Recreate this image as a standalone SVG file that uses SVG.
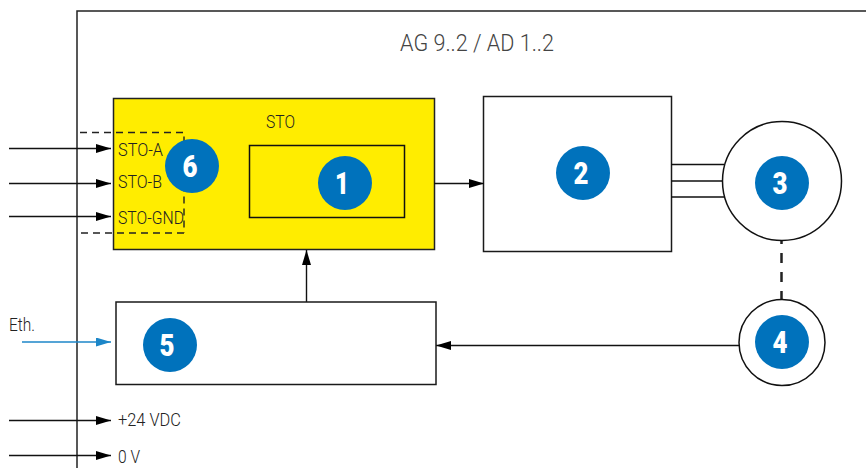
<svg xmlns="http://www.w3.org/2000/svg" width="866" height="468" viewBox="0 0 866 468">
<style>
text{font-family:"Roboto","Liberation Sans",sans-serif}
.l{font-size:18px;font-weight:300;fill:#222}
.box{fill:#fff;stroke:#1a1a1a;stroke-width:1.5}
.c{stroke:#111;stroke-width:1.4;fill:none}
.b{fill:#0072bc}
.n{font-size:31px;font-weight:900;fill:#fff;text-anchor:middle}
</style>
<defs>
<marker id="a" markerUnits="userSpaceOnUse" markerWidth="16" markerHeight="10" refX="15" refY="4.500" orient="auto"><path d="M0 0L15 4.500L0 9Z" fill="#000"/></marker>
<marker id="e" markerUnits="userSpaceOnUse" markerWidth="16" markerHeight="10" refX="15" refY="4.500" orient="auto"><path d="M0 0L15 4.500L0 9Z" fill="#1c86c8"/></marker>
</defs>
<path d="M866 11H77V468" fill="none" stroke="#222" stroke-width="1.500"/>
<text x="400" y="51" font-size="23" font-weight="300" fill="#444" textLength="154" lengthAdjust="spacingAndGlyphs">AG 9..2 / AD 1..2</text>
<g id="node1"><rect x="113.500" y="98.500" width="321" height="151" fill="#ffed00" stroke="#222" stroke-width="1.500"/><rect x="249.500" y="145.500" width="155" height="72" fill="none" stroke="#111" stroke-width="1.500"/><text x="266" y="128" class="l" textLength="29" lengthAdjust="spacingAndGlyphs">STO</text><circle class="b" cx="345" cy="183" r="27"/><text x="342" y="194" class="n" textLength="14" lengthAdjust="spacingAndGlyphs">1</text></g>
<g id="node6"><path d="M80 132.500H184V233M184 233H80" fill="none" stroke="#222" stroke-width="1.400" stroke-dasharray="7 5"/><text x="118" y="156" class="l" textLength="45" lengthAdjust="spacingAndGlyphs">STO-A</text><text x="118" y="188" class="l" textLength="44" lengthAdjust="spacingAndGlyphs">STO-B</text><text x="118" y="224" class="l" textLength="66" lengthAdjust="spacingAndGlyphs">STO-GND</text><circle class="b" cx="192" cy="166" r="27"/><text x="190" y="177" class="n" textLength="15" lengthAdjust="spacingAndGlyphs">6</text></g>
<g id="node2"><rect class="box" x="483.500" y="96.500" width="188" height="155"/><circle class="b" cx="583" cy="173" r="27"/><text x="581" y="184" class="n" textLength="15" lengthAdjust="spacingAndGlyphs">2</text></g>
<g id="connectors">
<path class="c" d="M9 148.500H111" marker-end="url(#a)"/>
<path class="c" d="M9 183.500H111" marker-end="url(#a)"/>
<path class="c" d="M9 216.500H111" marker-end="url(#a)"/>
<path class="c" d="M9 420.500H111" marker-end="url(#a)"/>
<path class="c" d="M9 455.500H111" marker-end="url(#a)"/>
<path d="M22 342H111" stroke="#1c86c8" stroke-width="1.400" fill="none" marker-end="url(#e)"/>
<path class="c" d="M434 183.500H484" marker-end="url(#a)"/>
<path class="c" d="M306.500 302V250" marker-end="url(#a)"/>
<path class="c" d="M739 345.500H436" marker-end="url(#a)"/>
<path class="c" d="M671 164.500H724M671 181H723M671 197H724"/>
<path d="M781.500 241V301" stroke="#222" stroke-width="2.500" stroke-dasharray="10 9" stroke-dashoffset="7" fill="none"/>
</g>
<g id="node3"><circle cx="782" cy="181" r="59.500" fill="#fff" stroke="#111" stroke-width="1.500"/><circle class="b" cx="782" cy="183" r="27"/><text x="780" y="194" class="n" textLength="15" lengthAdjust="spacingAndGlyphs">3</text></g>
<g id="node4"><circle cx="782" cy="342.500" r="43" fill="#fff" stroke="#111" stroke-width="1.500"/><circle class="b" cx="782" cy="342" r="27"/><text x="780" y="353" class="n" textLength="15" lengthAdjust="spacingAndGlyphs">4</text></g>
<g id="node5"><rect class="box" x="116" y="302" width="320" height="82.500"/><text x="9" y="331" class="l" textLength="26" lengthAdjust="spacingAndGlyphs">Eth.</text><circle class="b" cx="170" cy="345" r="27"/><text x="167" y="356" class="n" textLength="15" lengthAdjust="spacingAndGlyphs">5</text></g>
<text x="118" y="426" class="l" textLength="63" lengthAdjust="spacingAndGlyphs">+24 VDC</text>
<text x="118" y="463" class="l" textLength="22" lengthAdjust="spacingAndGlyphs">0 V</text>
</svg>
